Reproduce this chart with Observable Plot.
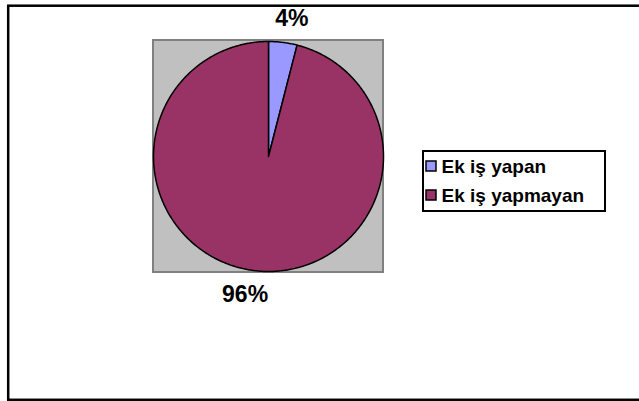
<!DOCTYPE html>
<html>
<head>
<meta charset="utf-8">
<script src="https://cdn.jsdelivr.net/npm/d3@7"></script>
<script src="https://cdn.jsdelivr.net/npm/@observablehq/plot@0.6"></script>
<style>
  html, body { margin: 0; padding: 0; background: #fff; }
  svg { display: block; }
</style>
</head>
<body>
<div id="chart"></div>
<script>
// Data
const categories = ["Ek iş yapan", "Ek iş yapmayan"];
const values = [4, 96];
const labels = ["4%", "96%"];
const colors = ["#9999FF", "#993366"];

// Layout (pixel space)
const W = 639, H = 401;
const cx = 268, cy = 156, R = 115;

const rows = categories.map((c, i) => ({category: c, value: values[i], label: labels[i]}));
const arcs = d3.pie().sort(null).value(d => d.value)(rows);

// Slice polygons built from pie angles
const slicePts = [];
for (const a of arcs) {
  const n = Math.max(2, Math.ceil((a.endAngle - a.startAngle) / 0.01));
  slicePts.push({category: a.data.category, x: cx, y: cy});
  for (let k = 0; k <= n; k++) {
    const t = a.startAngle + (a.endAngle - a.startAngle) * k / n;
    slicePts.push({category: a.data.category, x: cx + R * Math.sin(t), y: cy - R * Math.cos(t)});
  }
}

// Label positions at mid-angle, outside the pie
const labelPts = arcs.map(a => {
  const m = (a.startAngle + a.endAngle) / 2;
  const s = Math.sin(m);
  return {label: a.data.label, x: cx + 139 * s + Math.sign(s) * 6, y: cy - 139 * Math.cos(m)};
});

// Legend rows
const legendRows = categories.map((c, i) => ({category: c, y: 166 + i * 29}));

const chart = Plot.plot({
  width: W,
  height: H,
  margin: 0,
  x: {domain: [0, W], range: [0, W], axis: null},
  y: {domain: [0, H], range: [0, H], axis: null},
  color: {domain: categories, range: colors},
  style: {fontFamily: "'Liberation Sans', Arial, sans-serif", background: "#fff"},
  marks: [
    // plot area
    Plot.rect([0], {x1: () => cx - R, x2: () => cx + R, y1: () => cy - R - 1, y2: () => cy + R + 1,
      fill: "#C0C0C0", stroke: "#808080", strokeWidth: 2}),
    // slices
    Plot.line(slicePts, {x: "x", y: "y", z: "category", fill: "category", stroke: "#000",
      strokeWidth: 1.5, curve: "linear-closed"}),
    // data labels
    Plot.text(labelPts, {x: "x", y: "y", text: "label", fontSize: 23, fontWeight: "bold",
      fill: "#000", textAnchor: "middle", lineAnchor: "middle"}),
    // legend box
    Plot.rect([0], {x1: () => 423, x2: () => 605, y1: () => 151, y2: () => 211,
      fill: "#fff", stroke: "#000", strokeWidth: 2}),
    Plot.rect(legendRows, {x1: () => 426, x2: () => 436, y1: d => d.y - 5, y2: d => d.y + 5,
      fill: "category", stroke: "#000", strokeWidth: 1.5}),
    Plot.text(legendRows, {x: () => 441, y: "y", text: "category", fontSize: 19, fontWeight: "bold",
      fill: "#000", textAnchor: "start", lineAnchor: "middle"}),
    // chart border
    Plot.frame({stroke: "#000", strokeWidth: 2.5, insetLeft: 7.7, insetTop: 5.2, insetBottom: 1.7, insetRight: -3})
  ]
});
document.getElementById("chart").appendChild(chart);
</script>
</body>
</html>
